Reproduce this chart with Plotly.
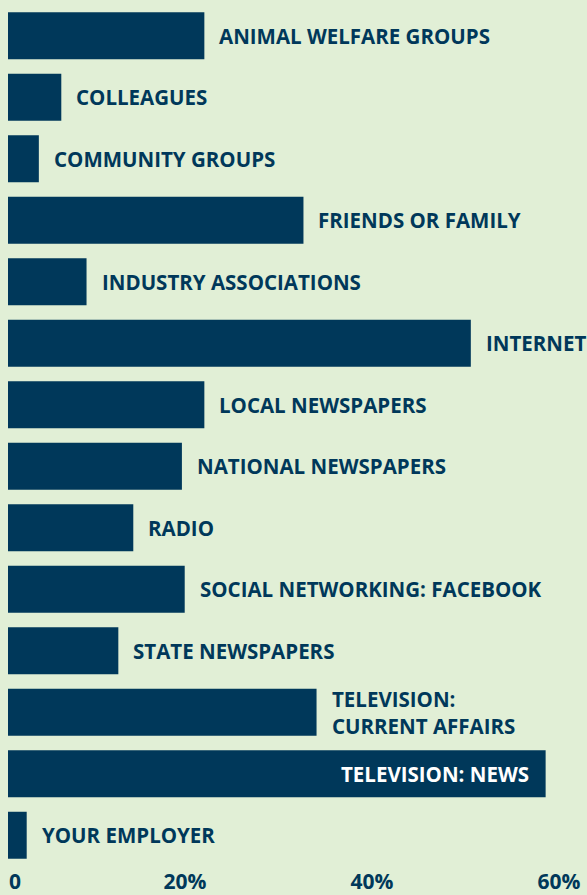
import plotly.graph_objects as go

categories = [
    "ANIMAL WELFARE GROUPS", "COLLEAGUES", "COMMUNITY GROUPS", "FRIENDS OR FAMILY",
    "INDUSTRY ASSOCIATIONS", "INTERNET", "LOCAL NEWSPAPERS", "NATIONAL NEWSPAPERS",
    "RADIO", "SOCIAL NETWORKING: FACEBOOK", "STATE NEWSPAPERS",
    "TELEVISION:<br>CURRENT AFFAIRS", "TELEVISION: NEWS", "YOUR EMPLOYER",
]
values = [21.0, 5.7, 3.3, 31.6, 8.4, 49.5, 21.0, 18.6, 13.4, 18.9, 11.8, 33.0, 57.5, 2.0]
tick_vals = [20, 40, 60]
tick_text = ["20%", "40%", "60%"]
zero_val = [0]
zero_text = ["0"]
inside_label = "TELEVISION: NEWS"

BG = "#e1efd6"
NAVY = "#00385a"
FONT = "Open Sans"

fig = go.Figure()
fig.add_trace(go.Bar(
    x=values, y=categories, orientation="h",
    marker=dict(color=NAVY, line=dict(width=0)),
    hoverinfo="skip",
))
# invisible helper so the overlaying axis carrying the "0" label is drawn
fig.add_trace(go.Scatter(
    x=zero_val, y=[categories[0]], xaxis="x2", yaxis="y",
    mode="markers", marker=dict(opacity=0, size=1),
    hoverinfo="skip", showlegend=False,
))

for cat, val in zip(categories, values):
    inside = cat == inside_label
    fig.add_annotation(
        x=val, y=cat, xref="x", yref="y",
        text=cat, showarrow=False,
        xanchor="right" if inside else "left",
        xshift=-15 if inside else 13,
        align="left",
        font=dict(family=FONT, size=20.5, color="white" if inside else NAVY, weight=700),
    )

tickfont = dict(family=FONT, size=21, color=NAVY, weight=700)
fig.update_layout(
    width=587, height=895,
    paper_bgcolor=BG, plot_bgcolor=BG,
    margin=dict(l=8, r=18, t=5, b=29, autoexpand=False),
    bargap=0.236,
    showlegend=False,
    xaxis=dict(
        range=[0, 60], tickvals=tick_vals, ticktext=tick_text,
        showgrid=False, zeroline=False, showline=False, ticks="",
        ticklabelshift=-10, ticklabelstandoff=1, automargin=False,
        tickfont=tickfont, fixedrange=True,
    ),
    xaxis2=dict(
        range=[0, 60], overlaying="x", anchor="y", side="bottom",
        tickvals=zero_val, ticktext=zero_text,
        showgrid=False, zeroline=False, showline=False, ticks="",
        ticklabelshift=7, ticklabelstandoff=1, automargin=False,
        tickfont=tickfont, fixedrange=True,
    ),
    yaxis=dict(
        type="category", categoryorder="array", categoryarray=categories,
        range=[len(categories) - 0.5, -0.5],
        showticklabels=False, showgrid=False,
        zeroline=False, showline=False, ticks="", fixedrange=True,
        automargin=False,
    ),
)

fig.write_html(
    "out.html",
    config={"displayModeBar": False},
    post_script="document.body.style.margin='0';document.body.style.background='%s';" % BG,
)
